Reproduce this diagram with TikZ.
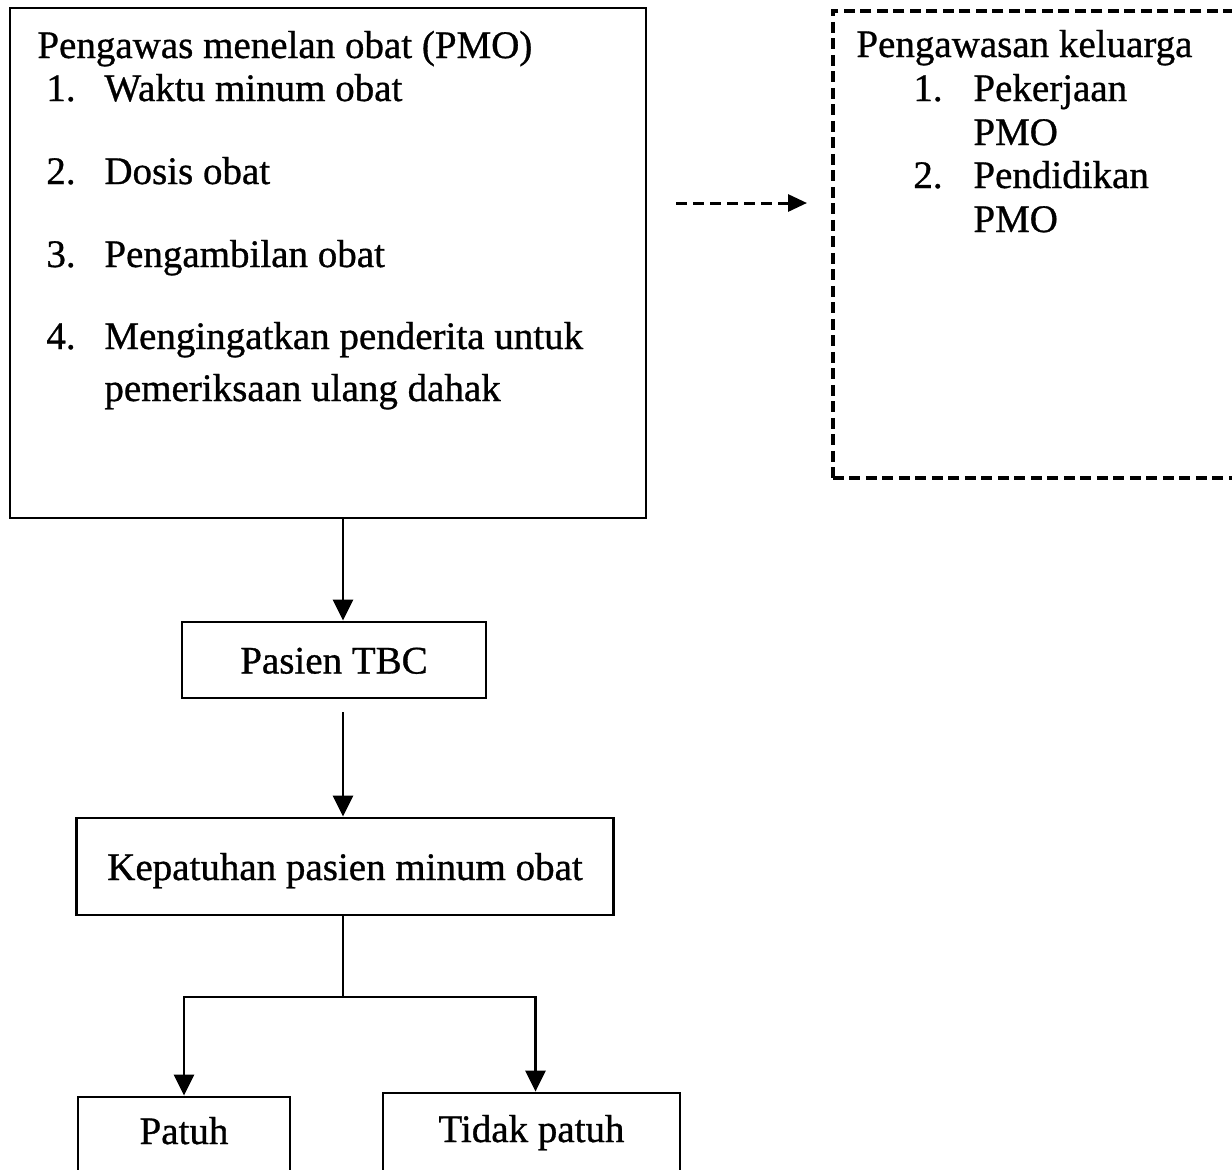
\documentclass[tikz,border=0pt]{standalone}
\usepackage{fontspec}
\setmainfont{Liberation Serif}[RawFeature={embolden=0.8}]
\usetikzlibrary{arrows.meta}

\begin{document}
\begin{tikzpicture}[x=1pt, y=-1pt, line width=2.8pt,
  txt/.style={anchor=base west, inner sep=0pt, font=\fontsize{39}{44}\selectfont},
  box/.style={draw, inner sep=0pt, font=\fontsize{39}{44}\selectfont, text height=27pt, text depth=0pt},
  lowbox/.style={draw, anchor=base, inner sep=0pt, font=\fontsize{39}{44}\selectfont, text depth=60pt},
  dbox/.style={draw, line width=3.6pt, dash pattern=on 11pt off 5.5pt},
  arr/.style={-{Triangle[length=21pt, width=20pt]}},
  darr/.style={-{Triangle[length=19pt, width=17pt]}, line width=3pt, dash pattern=on 11pt off 6pt}]
\useasboundingbox (0,0) rectangle (1232,1170);
\clip (0,0) rectangle (1232,1170);

% left box
\node[draw, minimum width=636pt, minimum height=510pt, inner sep=0pt] (pmo) at (328,263) {};
\node[txt] (pmot) at (36,58) {Pengawas menelan obat (PMO)};
\node[txt] (n1) at (45,101) {1.};
\node[txt] (i1) at (103,101) {Waktu minum obat};
\node[txt] (n2) at (45,184) {2.};
\node[txt] (i2) at (103,184) {Dosis obat};
\node[txt] (n3) at (45,267) {3.};
\node[txt] (i3) at (103,267) {Pengambilan obat};
\node[txt] (n4) at (45,349) {4.};
\node[txt] (i4) at (103,349) {Mengingatkan penderita untuk};
\node[txt] (i4b) at (103,401) {pemeriksaan ulang dahak};

% right box
\node[dbox, minimum width=520pt, minimum height=467pt, anchor=north west] (kel) at (831,9) {};
\node[txt] (kelt) at (855,57) {Pengawasan keluarga};
\node[txt] (k1) at (912,101) {1.};
\node[txt] (j1) at (972,101) {Pekerjaan};
\node[txt] (j1b) at (972,145) {PMO};
\node[txt] (k2) at (912,188) {2.};
\node[txt] (j2) at (972,188) {Pendidikan};
\node[txt] (j2b) at (972,232) {PMO};

\coordinate (dstart) at (676,203);
\draw[darr, shorten >=24pt] (dstart) -- (dstart -| kel.west);

% flow
\node[box, minimum width=304pt, minimum height=76pt] (pasien) at (334,660) {Pasien TBC};
\node[box, minimum width=537pt, minimum height=97pt] (kepatuhan) at (345,866.5) {Kepatuhan pasien minum obat};
\node[lowbox, text height=47pt, minimum width=212pt] (patuh) at (184,1144) {Patuh};
\node[lowbox, text height=49pt, minimum width=297pt] (tidak) at (531.5,1142) {Tidak patuh};

\coordinate (spine) at (343,0);
\coordinate (fork) at (343,997);
\draw[arr] (pmo.south -| spine) -- (pasien.north -| spine);
\draw[arr, shorten <=13pt] (pasien.south -| spine) -- (kepatuhan.north -| spine);
\draw (kepatuhan.south -| spine) -- (fork);
\draw[arr] (fork) -| (patuh.north);
\draw[arr] (fork) -| ([xshift=4pt]tidak.north);

\end{tikzpicture}
\end{document}
